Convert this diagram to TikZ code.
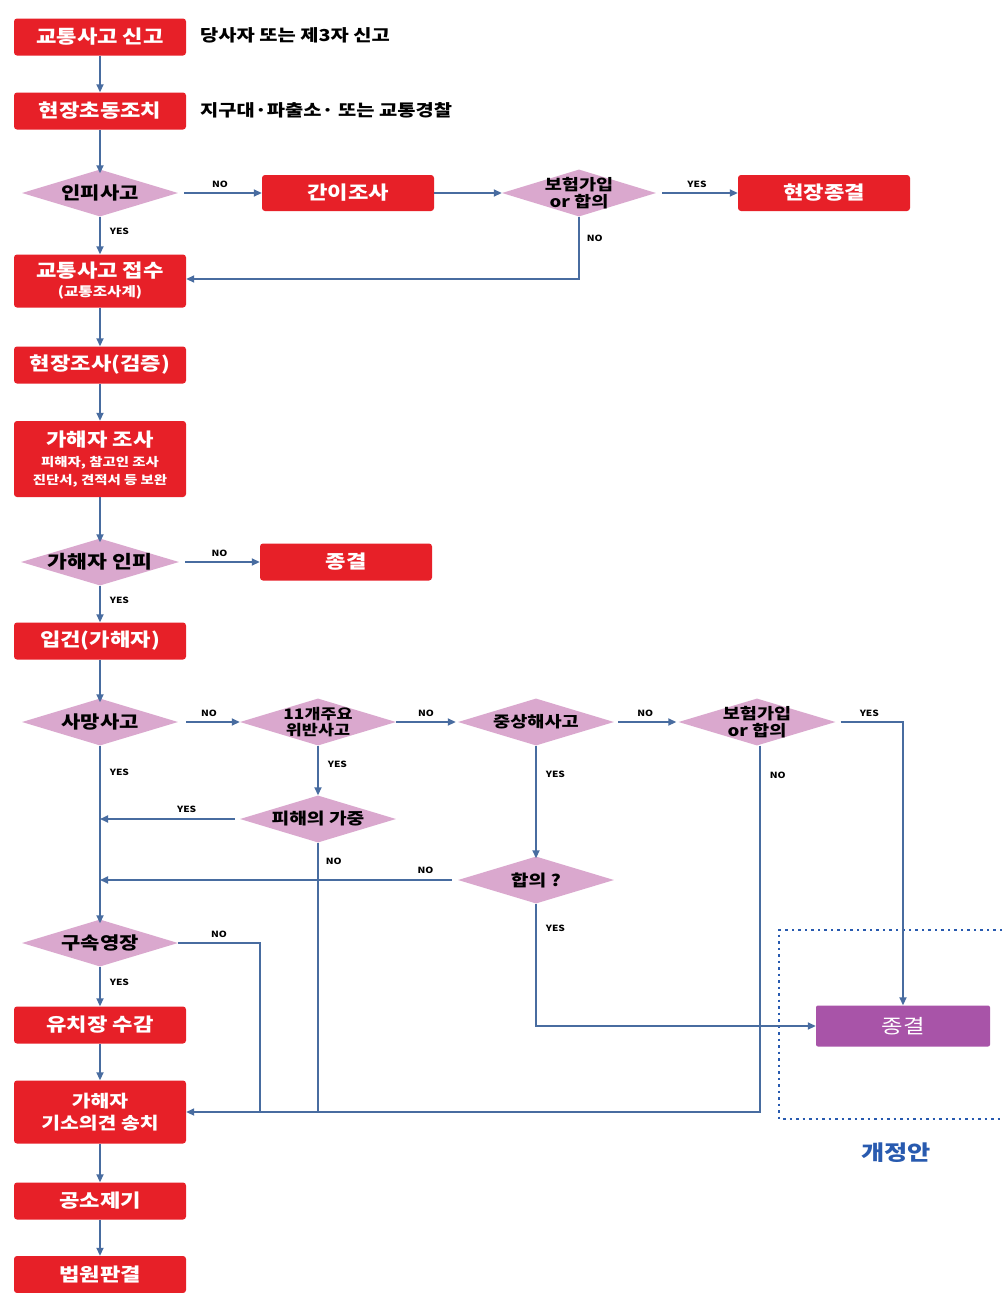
\documentclass[tikz,border=0pt]{standalone}
\usepackage{fontspec}
\setmainfont{Noto Sans CJK KR}[FakeStretch=1.2]
\usetikzlibrary{shapes.geometric,arrows.meta}
\definecolor{boxred}{RGB}{231,32,40}
\definecolor{diapink}{RGB}{218,168,206}
\definecolor{arrowblue}{RGB}{72,108,160}
\definecolor{endpurple}{RGB}{168,84,168}
\definecolor{revblue}{RGB}{40,90,175}
\newcommand{\fs}[2]{\fontsize{#1}{#2}\selectfont}
\begin{document}
\begin{tikzpicture}[x=1pt,y=-1pt,
  box/.style={fill=boxred, rounded corners=3pt, minimum width=172pt, minimum height=37pt,
    text=white, font=\bfseries\fs{18.5}{21}, align=center, inner sep=2pt},
  dia/.style={diamond, fill=diapink, minimum width=156pt, minimum height=47pt, inner sep=0pt},
  dtext/.style={font=\bfseries\fs{17.5}{16}, align=center, text=black, inner sep=0pt},
  dtwo/.style={dtext, font=\bfseries\fs{15.5}{16.5}},
  arr/.style={draw=arrowblue, line width=1.7pt, -{Triangle[length=8pt,width=7pt]}},
  ln/.style={draw=arrowblue, line width=1.7pt},
  lab/.style={font=\bfseries\fs{8.5}{9}, inner sep=1pt, text=black},
  side/.style={font=\bfseries\fs{16.5}{18}, anchor=west, inner sep=0pt}
]
\useasboundingbox (0,0) rectangle (1002,1293);
\fill[white] (0,0) rectangle (1002,1293);

% left column and branches
\node[box] (b1) at (100,37) {교통사고 신고};
\node[side] (s1) at (200,35) {당사자 또는 제3자 신고};
\node[box] (b2) at (100,111) {현장초동조치};
\node[side] (s2) at (200,110) {지구대·파출소· 또는 교통경찰};
\node[dia] (d1) at (100,193) {};
\node[dtext] (t1) at (d1) {인피사고};
\node[box, minimum height=36pt] (b3) at (348,193) {간이조사};
\node[dia, minimum width=154pt] (d2) at (579,193) {};
\node[dtwo] (t2) at (d2) {보험가입\\or 합의};
\node[box, minimum height=36pt] (b4) at (824,193) {현장종결};
\node[box, minimum height=53pt, font=\bfseries\fs{18.5}{19}] (b5) at (100,281) {교통사고 접수\\{\fs{13}{14}(교통조사계)}};
\node[box] (b6) at (100,365) {현장조사(검증)};
\node[box, minimum height=76pt] (b7) at (100,459) {가해자 조사\\[-1pt]{\fs{12}{15}피해자, 참고인 조사}\\[-3pt]{\fs{12}{15}진단서, 견적서 등 보완}};
\node[dia, minimum width=158pt] (d3) at (100,562) {};
\node[dtext, font=\bfseries\fs{18}{16}] (t3) at (d3) {가해자 인피};
\node[box] (b8) at (346,562) {종결};
\node[box] (b9) at (100,641) {입건(가해자)};
\node[dia] (d4) at (100,722) {};
\node[dtext] (t4) at (d4) {사망사고};
\node[dia] (d5) at (318,722) {};
\node[dtwo, font=\bfseries\fs{14.5}{16.5}] (t5) at (d5) {11개주요\\위반사고};
\node[dia] (d6) at (536,722) {};
\node[dtext, font=\bfseries\fs{15.5}{15}] (t6) at (d6) {중상해사고};
\node[dia, minimum width=157pt] (d7) at (757,722) {};
\node[dtwo] (t7) at (d7) {보험가입\\or 합의};
\node[dia] (d9) at (318,819) {};
\node[dtext, font=\bfseries\fs{16}{15}] (t9) at (d9) {피해의 가중};
\node[dia] (d10) at (536,880) {};
\node[dtext, font=\bfseries\fs{16}{15}] (t10) at (d10) {합의 ?};
\node[dia] (d8) at (100,943) {};
\node[dtext] (t8) at (d8) {구속영장};
\node[box] (b10) at (100,1025) {유치장 수감};
\node[box, minimum height=63pt, font=\bfseries\fs{17}{22}] (b11) at (100,1112) {가해자\\기소의견 송치};
\node[box] (b12) at (100,1201) {공소제기};
\node[box] (b13) at (100,1274.5) {법원판결};
\node[fill=endpurple, rounded corners=2pt, minimum width=174pt, minimum height=41pt,
  text=white, font=\fs{19.5}{21}] (p) at (903,1026) {종결};

% revision frame
\draw[revblue, line width=2pt, dash pattern=on 2.5pt off 4pt]
  (1002,930) -- (779,930) -- (779,1119) -- (1002,1119);
\node[text=revblue, font=\bfseries\fs{21}{23}] (rev) at (896,1153) {개정안};

% junction coordinates
\coordinate (j1) at (260,1111);

% connectors
\draw[arr] (b1.south) -- (b2.north);
\draw[arr] (b2.south) -- ([yshift=-4pt]d1.north);
\draw[arr, shorten <=6pt] (d1.east) -- node[lab, above=4pt] {NO} (b3.west);
\draw[arr] (b3.east) -- (d2.west);
\draw[arr, shorten <=6pt] (d2.east) -- node[lab, above=4pt] {YES} (b4.west);
\draw[arr] (d2.south) |- node[lab, right=6pt, pos=0.17] {NO} ([yshift=2pt]b5.east);
\draw[arr] (d1.south) -- node[lab, right=8pt, pos=0.4] {YES} (b5.north);
\draw[arr] (b5.south) -- (b6.north);
\draw[arr] (b6.south) -- (b7.north);
\draw[arr] (b7.south) -- ([yshift=-4pt]d3.north);
\draw[arr, shorten <=6pt] (d3.east) -- node[lab, above=4pt] {NO} (b8.west);
\draw[arr] (d3.south) -- node[lab, right=8pt, pos=0.4] {YES} (b9.north);
\draw[arr] (b9.south) -- ([yshift=-4pt]d4.north);
\draw[arr, shorten <=8pt] (d4.east) -- node[lab, above=4pt] {NO} (d5.west);
\draw[arr] (d5.east) -- node[lab, above=4pt] {NO} ([xshift=-2pt]d6.west);
\draw[arr, shorten <=4pt] (d6.east) -- node[lab, above=4pt] {NO} ([xshift=-2pt]d7.west);
\draw[arr, shorten <=5pt] (d7.east) -| node[lab, above=4pt, pos=0.25] {YES} (p.north);
\draw[arr] (d4.south) -- node[lab, right=8pt, pos=0.15] {YES} ([yshift=-4pt]d8.north);
\draw[arr] (d5.south) -- node[lab, right=8pt, pos=0.38] {YES} (d9.north);
\draw[arr, shorten <=5pt] (d9.west) -- node[lab, above=5pt, pos=0.38] {YES} (d4.south |- d9.west);
\draw[ln] (d9.south) -- node[lab, right=6pt, pos=0.07] {NO} (d9.south |- b11.east);
\draw[arr] (d6.south) -- node[lab, right=8pt, pos=0.25] {YES} ([yshift=-2pt]d10.north);
\draw[arr, shorten <=6pt] (d10.west) -- node[lab, above=5pt, pos=0.09] {NO} (d4.south |- d10.west);
\draw[arr] (d10.south) |- node[lab, right=8pt, pos=0.1] {YES} (p.west);
\draw[arr] ([xshift=3pt]d7.south) |- node[lab, right=8pt, pos=0.04] {NO} (b11.east);
\draw[ln] (d8.east) -| node[lab, above=4pt, pos=0.25] {NO} (j1);
\draw[arr] (d8.south) -- node[lab, right=8pt, pos=0.4] {YES} (b10.north);
\draw[arr] (b10.south) -- (b11.north);
\draw[arr] (b11.south) -- (b12.north);
\draw[arr] (b12.south) -- (b13.north);
\end{tikzpicture}
\end{document}
